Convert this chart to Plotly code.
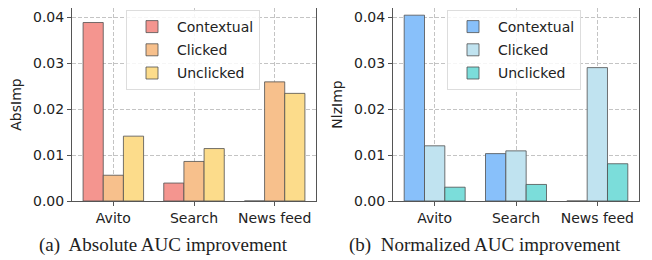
import plotly.graph_objects as go

categories = ["Avito", "Search", "News feed"]
series_names = ["Contextual", "Clicked", "Unclicked"]

abs_contextual = [0.0388, 0.0039, 0.0]
abs_clicked = [0.0056, 0.0086, 0.0259]
abs_unclicked = [0.0141, 0.0114, 0.0234]

nlz_contextual = [0.0404, 0.0103, 0.0]
nlz_clicked = [0.0120, 0.0109, 0.0290]
nlz_unclicked = [0.0030, 0.0036, 0.0081]

y_ticks = [0.0, 0.01, 0.02, 0.03, 0.04]

abs_colors = ["#F4958F", "#F7C08C", "#FCDC8B"]
nlz_colors = ["#88C0FA", "#C0E3F0", "#7BDDDA"]
edge_color = "rgba(80,80,80,0.8)"

# The page body has an 8px default margin; the figure fills the rest of the window.
OFF = 8
W, H = 652 - OFF, 260 - OFF

fig = go.Figure()

for name, vals, col in zip(series_names, [abs_contextual, abs_clicked, abs_unclicked], abs_colors):
    fig.add_trace(go.Bar(x=categories, y=vals, name=name, marker=dict(color=col, line=dict(color=edge_color, width=1)),
                         xaxis="x", yaxis="y", legend="legend", legendgroup="a" + name, offsetgroup=name))
for name, vals, col in zip(series_names, [nlz_contextual, nlz_clicked, nlz_unclicked], nlz_colors):
    fig.add_trace(go.Bar(x=categories, y=vals, name=name, marker=dict(color=col, line=dict(color=edge_color, width=1)),
                         xaxis="x2", yaxis="y2", legend="legend2", legendgroup="b" + name, offsetgroup=name))

def px_x(p):
    return (p - OFF) / W

def px_y(p):
    return 1 - (p - OFF) / H

ax_common = dict(
    type="category", range=[-0.5125, 2.5125], showline=True, mirror=True, linecolor="#555555", linewidth=1,
    ticks="outside", ticklen=4, tickcolor="#555555", showgrid=True, gridcolor="#C4C4C4", griddash="4px,2px",
    gridwidth=0.8, tickfont=dict(family="DejaVu Sans", size=14, color="#222222"), zeroline=False,
    automargin=False,
)
ay_common = dict(
    range=[0, 0.04196], tickvals=y_ticks, tickformat=".2f", showline=True, mirror=True, linecolor="#555555",
    linewidth=1, ticks="outside", ticklen=4, tickcolor="#555555", showgrid=True, gridcolor="#C4C4C4",
    griddash="4px,2px", gridwidth=0.8, tickfont=dict(family="DejaVu Sans", size=14, color="#222222"),
    zeroline=False, automargin=False, ticklabeloverflow="allow",
)

legend_common = dict(
    xanchor="left", yanchor="top", bgcolor="rgba(255,255,255,0.85)", bordercolor="#DDDDDD", borderwidth=1,
    font=dict(family="DejaVu Sans", size=14, color="#222222"), traceorder="grouped", tracegroupgap=2,
    itemwidth=40,
)

fig.update_layout(
    width=W, height=H, margin=dict(l=0, r=0, t=0, b=0, autoexpand=False), paper_bgcolor="white",
    plot_bgcolor="white", barmode="group", bargap=0.25, bargroupgap=0,
    xaxis=dict(ax_common, domain=[px_x(72), px_x(316)], anchor="y"),
    yaxis=dict(ay_common, domain=[px_y(201), 1.0], anchor="x",
               title=dict(text="AbsImp", font=dict(family="DejaVu Sans", size=14, color="#222222"), standoff=8)),
    xaxis2=dict(ax_common, domain=[px_x(393), px_x(639)], anchor="y2"),
    yaxis2=dict(ay_common, domain=[px_y(201), 1.0], anchor="x2",
                title=dict(text="NlzImp", font=dict(family="DejaVu Sans", size=14, color="#222222"), standoff=8)),
    legend=dict(legend_common, x=px_x(126), y=px_y(10)),
    legend2=dict(legend_common, x=px_x(447), y=px_y(10)),
    annotations=[
        dict(text="(a)  Absolute AUC improvement", x=px_x(163), y=px_y(245), xref="paper", yref="paper",
             xanchor="center", yanchor="middle", showarrow=False,
             font=dict(family="Liberation Serif", size=19, color="#222222")),
        dict(text="(b)  Normalized AUC improvement", x=px_x(485), y=px_y(245), xref="paper", yref="paper",
             xanchor="center", yanchor="middle", showarrow=False,
             font=dict(family="Liberation Serif", size=19, color="#222222")),
    ],
)

fig.write_html("out.html")
